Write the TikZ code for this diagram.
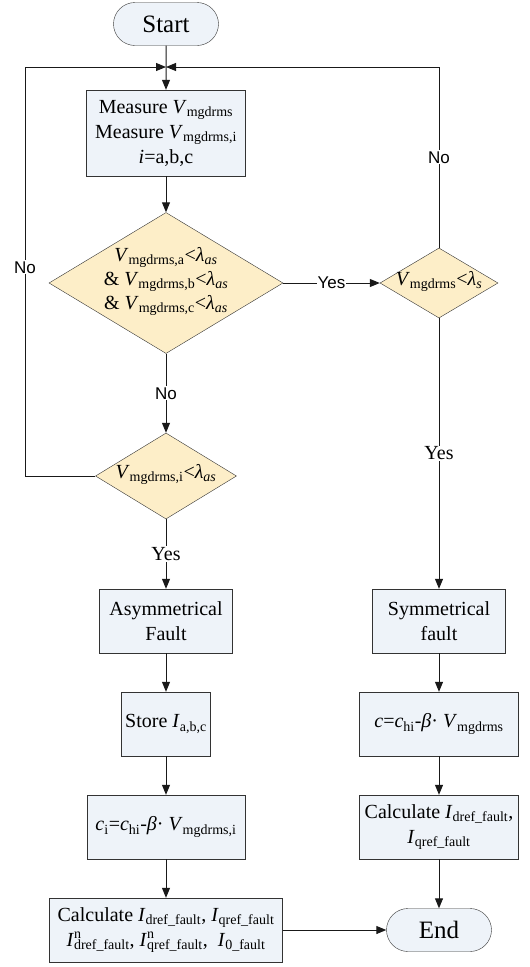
\documentclass[tikz,border=0pt]{standalone}
\usepackage{fontspec}
\setmainfont{Liberation Serif}
\newfontfamily\sansfont{Liberation Sans}
\usetikzlibrary{shapes.geometric,shapes.misc,arrows.meta}

\definecolor{boxblue}{RGB}{238,243,249}
\definecolor{diamondtan}{RGB}{253,238,200}

\tikzset{
    terminal/.style={draw=black!80, fill=boxblue, rounded rectangle, minimum width=105pt, minimum height=43pt, inner sep=0pt, font=\fontsize{25}{30}\selectfont},
    process/.style={draw=black!80, fill=boxblue, rectangle, align=center, inner sep=0pt, font=\fontsize{20}{25}\selectfont},
    decision/.style={draw=black!80, fill=diamondtan, diamond, inner sep=0pt, font=\fontsize{20}{24}\selectfont},
    flow/.style={draw=black!90, line width=1pt, -{Triangle[length=10pt,width=8pt]}},
    yesno/.style={fill=white, inner sep=1pt, font=\sansfont\fontsize{17}{20}\selectfont},
    yesnoserif/.style={fill=white, inner sep=1pt, font=\fontsize{20}{24}\selectfont},
}

\begin{document}
\begin{tikzpicture}[x=1pt, y=-1pt]

    % Define the short forms for the quantities
    \def\vm#1{\textit{V}\textsubscript{#1}}
    \def\las{\textit{λ}\textsubscript{\textit{as}}}
    % Text of a decision takes no room, so the diamond keeps its size
    \def\intext#1{\raisebox{-5pt}{\smash{\makebox[0pt]{\begin{tabular}{@{}c@{}}#1\end{tabular}}}}}

    \useasboundingbox (0,0) rectangle (530,967);

    % Start, measuring and the tests
    \node[terminal] (start) at (166,24) {Start};
    \node[process, minimum width=159pt, minimum height=86pt] (measure) at (166,133)
        {Measure \vm{mgdrms}\\Measure \vm{mgdrms,i}\\\textit{i}=a,b,c};
    \node[decision, minimum width=234pt, minimum height=141pt] (d1) at (166,283)
        {\intext{\vm{mgdrms,a}<\las\\\& \vm{mgdrms,b}<\las\\\& \vm{mgdrms,c}<\las}};
    \node[decision, minimum width=118pt, minimum height=70pt] (d2) at (439,283)
        {\intext{\vm{mgdrms}<\textit{λ}\textsubscript{\textit{s}}}};
    \node[decision, minimum width=141pt, minimum height=86pt] (d3) at (166,476)
        {\intext{\vm{mgdrms,i}<\las}};

    % Asymmetrical branch
    \node[process, minimum width=133pt, minimum height=64pt] (asym) at (166,621) {Asymmetrical\\Fault};
    \node[process, minimum width=89pt, minimum height=64pt] (store) at (166,724) {Store \textit{I}\textsubscript{a,b,c}};
    \node[process, minimum width=158pt, minimum height=64pt] (cival) at (166,827)
        {\textit{c}\textsubscript{i}=\textit{c}\textsubscript{hi}-\textit{β}· \vm{mgdrms,i}};
    \node[process, minimum width=233pt, minimum height=64pt] (calcL) at (166,930)
        {Calculate \textit{I}\textsubscript{dref\_fault}, \textit{I}\textsubscript{qref\_fault}\\
         \textit{I}\rlap{\textsuperscript{n}}\textsubscript{dref\_fault}, \textit{I}\rlap{\textsuperscript{n}}\textsubscript{qref\_fault}, \ \textit{I}\textsubscript{0\_fault}};

    % Symmetrical branch
    \node[process, minimum width=133pt, minimum height=64pt] (sym) at (439,621) {Symmetrical\\fault};
    \node[process, minimum width=159pt, minimum height=64pt] (cval) at (439,724)
        {\textit{c}=\textit{c}\textsubscript{hi}-\textit{β}· \vm{mgdrms}};
    \node[process, minimum width=159pt, minimum height=64pt] (calcR) at (439,827)
        {Calculate \textit{I}\textsubscript{dref\_fault},\\\textit{I}\textsubscript{qref\_fault}};
    \node[terminal] (end) at (439,930) {End};

    % Corners of the two loops back to the top
    \coordinate (join) at (166,67);
    \coordinate (loopLtop) at (25,67);
    \coordinate (loopLbot) at (25,476);
    \coordinate (loopR) at (439,67);

    % Connectors
    \draw[flow] (start) -- (measure);
    \draw[flow] (measure) -- (d1);
    \draw[flow] (d1) -- node[yesno] (yes1) {Yes} (d2);
    \draw[flow] (d1) -- node[yesno] (no1) {No} (d3);
    \draw[flow] (d2.north) -- node[yesno] (no2) {No} (loopR) -- (join);
    \draw[flow] (d3.west) -- (loopLbot) -- node[yesno, pos=0.51] (no3) {No} (loopLtop) -- (join);
    \draw[flow] (d3) -- node[yesnoserif] (yes3) {Yes} (asym);
    \draw[flow] (d2) -- node[yesnoserif] (yes2) {Yes} (sym);
    \draw[flow] (asym) -- (store);
    \draw[flow] (store) -- (cival);
    \draw[flow] (cival) -- (calcL);
    \draw[flow] (sym) -- (cval);
    \draw[flow] (cval) -- (calcR);
    \draw[flow] (calcR) -- (end);
    \draw[flow] (calcL) -- (end);

\end{tikzpicture}
\end{document}
